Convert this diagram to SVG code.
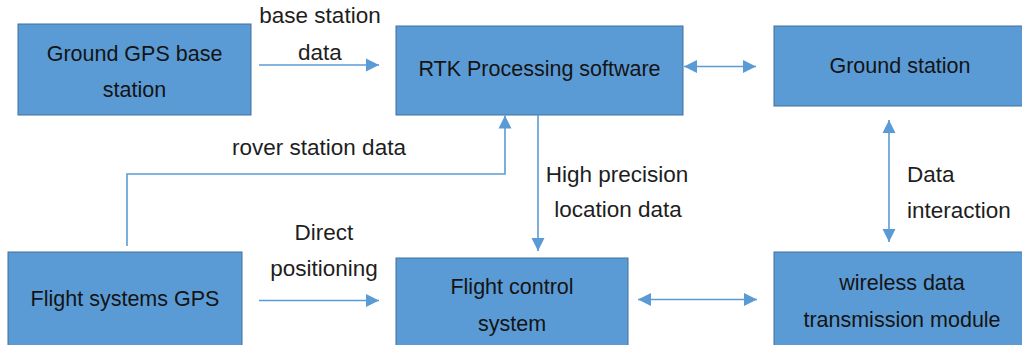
<svg xmlns="http://www.w3.org/2000/svg" width="1022" height="345" viewBox="0 0 1022 345">
<style>
.box{fill:#5B9BD5;stroke:#41719C;stroke-width:1}
.t{font-family:"Liberation Sans",Arial,sans-serif;font-size:21.5px;fill:#141414;text-anchor:middle}
.l{font-family:"Liberation Sans",Arial,sans-serif;font-size:22.5px;fill:#1e1e1e;text-anchor:middle}
.c{fill:none;stroke:#5B9BD5;stroke-width:1.6}
</style>
<defs>
<marker id="ah" markerUnits="userSpaceOnUse" markerWidth="14" markerHeight="14" refX="13" refY="7" orient="auto-start-reverse">
<path d="M0,0.5 L13,7 L0,13.5 z" fill="#5B9BD5"/>
</marker>
</defs>
<rect width="1022" height="345" fill="#ffffff"/>
<g id="ground-gps">
<rect class="box" x="18" y="24" width="233" height="91"/>
<text class="t" x="134.5" y="61">Ground GPS base</text>
<text class="t" x="134.5" y="97">station</text>
</g>
<g id="rtk">
<rect class="box" x="396" y="26" width="287" height="89"/>
<text class="t" x="539.5" y="76">RTK Processing software</text>
</g>
<g id="ground-station">
<rect class="box" x="774" y="26" width="260" height="80"/>
<text class="t" x="900" y="73">Ground station</text>
</g>
<g id="flight-gps">
<rect class="box" x="8" y="252" width="234" height="100"/>
<text class="t" x="125" y="306">Flight systems GPS</text>
</g>
<g id="flight-control">
<rect class="box" x="396" y="258" width="232" height="94"/>
<text class="t" x="512" y="294">Flight control</text>
<text class="t" x="512" y="331">system</text>
</g>
<g id="wireless">
<rect class="box" x="774" y="252" width="260" height="100"/>
<text class="t" x="902" y="290">wireless data</text>
<text class="t" x="902" y="327">transmission module</text>
</g>
<g id="connectors">
<path class="c" d="M259,65 H379" marker-end="url(#ah)"/>
<path class="c" d="M684,66.5 H756" marker-start="url(#ah)" marker-end="url(#ah)"/>
<path class="c" d="M127,246 V174 H505 V115.5" marker-end="url(#ah)"/>
<path class="c" d="M538,115 V251" marker-end="url(#ah)"/>
<path class="c" d="M889,120 V242" marker-start="url(#ah)" marker-end="url(#ah)"/>
<path class="c" d="M259,300.5 H379" marker-end="url(#ah)"/>
<path class="c" d="M638,299.5 H757" marker-start="url(#ah)" marker-end="url(#ah)"/>
</g>
<g id="labels">
<text class="l" x="320" y="23">base station</text>
<text class="l" x="320" y="60">data</text>
<text class="l" x="319" y="155">rover station data</text>
<text class="l" x="324" y="240">Direct</text>
<text class="l" x="324" y="276">positioning</text>
<text class="l" x="617" y="182">High precision</text>
<text class="l" x="618" y="217">location data</text>
<text class="l" x="907" y="182" style="text-anchor:start">Data</text>
<text class="l" x="907" y="218" style="text-anchor:start">interaction</text>
</g>
</svg>
